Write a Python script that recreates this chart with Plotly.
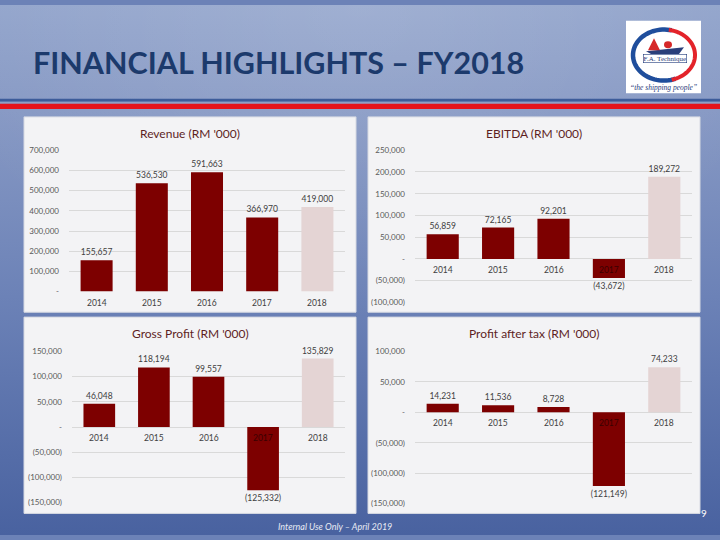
import base64
import numpy as np
import plotly.graph_objects as go

# ---------------- data ----------------
years = ["2014", "2015", "2016", "2017", "2018"]
revenue = [155657, 536530, 591663, 366970, 419000]
ebitda = [56859, 72165, 92201, -43672, 189272]
gross_profit = [46048, 118194, 99557, -125332, 135829]
profit_after_tax = [14231, 11536, 8728, -121149, 74233]

revenue_ticks = [0, 100000, 200000, 300000, 400000, 500000, 600000, 700000]
ebitda_ticks = [-100000, -50000, 0, 50000, 100000, 150000, 200000, 250000]
gross_profit_ticks = [-150000, -100000, -50000, 0, 50000, 100000, 150000]
pat_ticks = [-150000, -100000, -50000, 0, 50000, 100000]

titles = ["Revenue (RM '000)", "EBITDA (RM '000)", "Gross Profit (RM '000)", "Profit after tax (RM '000)"]

# ---------------- styling ----------------
W, H = 720, 540
FONT = "Lato"
BAR_DARK = "#7d0000"
BAR_LIGHT = "#e4d4d4"
bar_colors = [BAR_DARK] * 4 + [BAR_LIGHT]


def fx(x):
    return x / W


def fy(y):
    return 1 - y / H


def fmt(v):
    if v == 0:
        return "-"
    s = f"{abs(v):,}"
    return f"({s})" if v < 0 else s


# panel boxes and plot areas in pixels (left, top, right, bottom)
panels = [(24, 114, 356, 313), (368, 114, 700, 313), (24, 318, 356, 518), (368, 318, 700, 518)]
plots = [(69, 148, 345, 292), (415, 148, 692, 303), (72, 353, 345, 507), (415, 353, 692, 508)]

series = [revenue, ebitda, gross_profit, profit_after_tax]
ticks = [revenue_ticks, ebitda_ticks, gross_profit_ticks, pat_ticks]

fig = go.Figure()

# background gradient as inline svg
svg = (
    '<svg xmlns="http://www.w3.org/2000/svg" width="720" height="540" preserveAspectRatio="none">'
    '<defs><linearGradient id="g" x1="0" y1="0" x2="0" y2="1">'
    '<stop offset="0" stop-color="#93a5cc"/>'
    '<stop offset="0.2" stop-color="#8799c4"/>'
    '<stop offset="0.55" stop-color="#6c82b7"/>'
    '<stop offset="1" stop-color="#4962a0"/>'
    '</linearGradient>'
    '<radialGradient id="r" cx="0.5" cy="0" r="0.6">'
    '<stop offset="0" stop-color="#ffffff" stop-opacity="0.12"/>'
    '<stop offset="1" stop-color="#ffffff" stop-opacity="0"/>'
    '</radialGradient></defs>'
    '<rect width="720" height="540" fill="url(#g)"/>'
    '<rect width="720" height="540" fill="url(#r)"/>'
    '</svg>'
)
bg_src = "data:image/svg+xml;base64," + base64.b64encode(svg.encode()).decode()

shapes = []
annotations = []

# header lines
shapes.append(dict(type="rect", xref="paper", yref="paper", x0=0, x1=1, y0=fy(98.5), y1=fy(95.5),
                   fillcolor="#3d5c9a", line=dict(width=0), layer="below"))
shapes.append(dict(type="rect", xref="paper", yref="paper", x0=0, x1=1, y0=fy(100), y1=fy(98.5),
                   fillcolor="#8d9fc6", line=dict(width=0), layer="below"))
shapes.append(dict(type="rect", xref="paper", yref="paper", x0=0, x1=1, y0=fy(106), y1=fy(100.5),
                   fillcolor="#e5141c", line=dict(width=0), layer="below"))

# logo
shapes.append(dict(type="rect", xref="paper", yref="paper", x0=fx(626), x1=fx(701), y0=fy(90), y1=fy(16),
                   fillcolor="#ffffff", line=dict(width=0), layer="below"))
cx, cy, rx, ry = 664, 51, 31, 26
t_blue = np.linspace(np.pi * 0.42, np.pi * 1.62, 50)
t_red = np.linspace(-np.pi * 0.42, np.pi * 0.45, 50)


def arc_path(ts):
    pts = [(fx(cx + rx * np.cos(t)), fy(cy - ry * np.sin(t))) for t in ts]
    return "M " + " L ".join(f"{a:.5f},{b:.5f}" for a, b in pts)


shapes.append(dict(type="path", xref="paper", yref="paper", path=arc_path(t_blue),
                   line=dict(color="#1f4e9c", width=4.5)))
shapes.append(dict(type="path", xref="paper", yref="paper", path=arc_path(t_red),
                   line=dict(color="#e3232a", width=4)))
# small ship
ship = [(646, 47), (684, 43), (679, 50), (651, 50)]
shapes.append(dict(type="path", xref="paper", yref="paper",
                   path="M " + " L ".join(f"{fx(a):.5f},{fy(b):.5f}" for a, b in ship) + " Z",
                   fillcolor="#2a3f7a", line=dict(width=0)))
shapes.append(dict(type="path", xref="paper", yref="paper",
                   path=f"M {fx(648):.5f},{fy(46):.5f} L {fx(654):.5f},{fy(34):.5f} L {fx(660):.5f},{fy(46):.5f} Z",
                   fillcolor="#d62828", line=dict(width=0)))
shapes.append(dict(type="circle", xref="paper", yref="paper", x0=fx(664), x1=fx(672), y0=fy(44), y1=fy(37),
                   fillcolor="#d62828", line=dict(width=0)))
annotations.append(dict(text="F.A. Technique", x=fx(665), y=fy(55), xref="paper", yref="paper",
                        xanchor="center", yanchor="middle",
                        showarrow=False, font=dict(family="Liberation Serif", size=7, color="#1f3a7a"),
                        bgcolor="#ffffff", bordercolor="#1f3a7a", borderwidth=0.6, borderpad=0))
annotations.append(dict(text="<i>\u201cthe shipping people\u201d</i>", x=fx(663), y=fy(84), xref="paper", yref="paper",
                        xanchor="center", yanchor="middle",
                        showarrow=False, font=dict(family="Liberation Serif", size=7.5, color="#1f3a7a")))

# slide title
annotations.append(dict(text="<b>FINANCIAL HIGHLIGHTS \u2013 FY2018</b>", x=fx(31), y=fy(58), xref="paper", yref="paper",
                        xanchor="left", yanchor="middle", showarrow=False,
                        font=dict(family=FONT, size=30.5, color="#1c3a6c")))

# footer
annotations.append(dict(text="<i>Internal Use Only \u2013 April 2019</i>", x=fx(276), y=fy(531), xref="paper", yref="paper",
                        xanchor="left", yanchor="middle", showarrow=False,
                        font=dict(family=FONT, size=9, color="#e8ebf4")))
annotations.append(dict(text="9", x=fx(704), y=fy(518), xref="paper", yref="paper",
                        xanchor="center", yanchor="middle", showarrow=False,
                        font=dict(family=FONT, size=10, color="#ffffff")))

layout_axes = {}
for i, (vals, tks, title, pan, pl) in enumerate(zip(series, ticks, titles, panels, plots), start=1):
    # panel
    shapes.append(dict(type="rect", xref="paper", yref="paper", x0=fx(pan[0]), x1=fx(pan[2]),
                       y0=fy(pan[3]), y1=fy(pan[1]), fillcolor="#f3f3f5",
                       line=dict(color="#d6d9e2", width=1), layer="below"))
    annotations.append(dict(text=title, x=fx((pan[0] + pan[2]) / 2), y=fy(pan[1] + 17), xref="paper", yref="paper",
                            xanchor="center", yanchor="middle", showarrow=False,
                            font=dict(family=FONT, size=12, color="#5e1f1f")))
    xa = "x" if i == 1 else f"x{i}"
    ya = "y" if i == 1 else f"y{i}"
    fig.add_trace(go.Bar(
        x=years, y=vals, xaxis=xa, yaxis=ya,
        marker=dict(color=bar_colors, line=dict(width=0)),
        width=0.58,
        text=[fmt(v) for v in vals], textposition="outside", cliponaxis=False,
        constraintext="none",
        textfont=dict(family=FONT, size=8.5, color="#404040"),
        hoverinfo="skip", showlegend=False,
    ))
    # category labels sit on the zero line (category index positions)
    for j, (yr, v) in enumerate(zip(years, vals)):
        annotations.append(dict(text=yr, x=j, y=0, xref=xa, yref=ya, yshift=-11, showarrow=False,
                                xanchor="center",
                                font=dict(family=FONT, size=8.5, color="#3a0000" if v < 0 else "#404040")))
    key = "" if i == 1 else str(i)
    layout_axes[f"xaxis{key}"] = dict(type="category", domain=[fx(pl[0]), fx(pl[2])], anchor=ya,
                                      range=[-0.5, len(years) - 0.5],
                                      showticklabels=False, showgrid=False, zeroline=False, showline=False,
                                      ticks="", categoryorder="array", categoryarray=years, fixedrange=True)
    layout_axes[f"yaxis{key}"] = dict(domain=[fy(pl[3]), fy(pl[1])], anchor=xa, range=[min(tks), max(tks)],
                                      tickvals=tks, ticktext=[fmt(t) for t in tks],
                                      showgrid=True, gridcolor="#d9d9d9", gridwidth=1,
                                      zeroline=False, showline=False, ticks="", ticklabelstandoff=9,
                                      tickfont=dict(family=FONT, size=8, color="#595959"), fixedrange=True)

fig.update_layout(
    width=W, height=H, margin=dict(l=0, r=0, t=0, b=0),
    paper_bgcolor="#6c82b7", plot_bgcolor="rgba(0,0,0,0)",
    shapes=shapes, annotations=annotations,
    images=[dict(source=bg_src, xref="paper", yref="paper", x=0, y=1, sizex=1, sizey=1,
                 xanchor="left", yanchor="top", sizing="stretch", layer="below")],
    bargap=0.4,
    **layout_axes,
)

fig.write_html("out.html", config={"displayModeBar": False},
               post_script="document.body.style.margin='0';document.body.style.overflow='hidden';")
